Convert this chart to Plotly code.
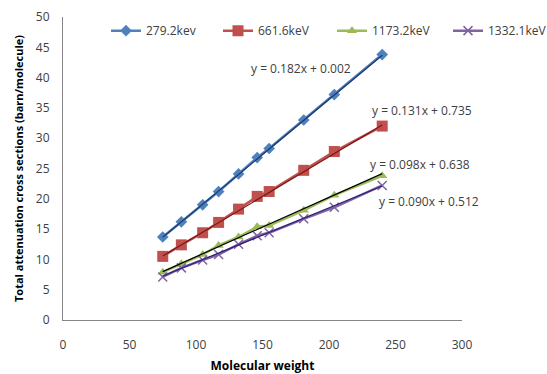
import numpy as np
import plotly.graph_objects as go

# Data
mol_weight = [75, 89, 105, 117, 132, 146, 155, 181, 204, 240]
series_names = ["279.2kev", "661.6keV", "1173.2keV", "1332.1keV"]
s_279 = [13.7, 16.2, 19.0, 21.2, 24.1, 26.8, 28.3, 33.0, 37.2, 43.8]
s_661 = [10.5, 12.4, 14.4, 16.1, 18.3, 20.4, 21.2, 24.7, 27.8, 32.0]
s_1173 = [7.9, 9.3, 10.8, 12.3, 13.7, 15.4, 15.6, 18.1, 20.6, 23.8]
s_1332 = [7.1, 8.6, 9.9, 10.8, 12.5, 13.9, 14.4, 16.7, 18.6, 22.2]
slopes = [0.182, 0.131, 0.098, 0.090]
intercepts = [0.002, 0.735, 0.638, 0.512]
eq_labels = ["y = 0.182x + 0.002", "y = 0.131x + 0.735",
             "y = 0.098x + 0.638", "y = 0.090x + 0.512"]
x_ticks = [0, 50, 100, 150, 200, 250, 300]
y_ticks = [0, 5, 10, 15, 20, 25, 30, 35, 40, 45, 50]

colors = ["#4F81BD", "#C0504D", "#9BBB59", "#8064A2"]
trend_colors = ["#1F3A6E", "#7A1515", "#000000", "#2B1E78"]
symbols = ["diamond", "square", "triangle-up", "x-thin"]
sizes = [9, 11, 9, 9]
values = [s_279, s_661, s_1173, s_1332]
legend_ids = ["legend", "legend2", "legend3", "legend4"]
legend_px = [106, 218, 332, 448]

fig = go.Figure()
for i, name in enumerate(series_names):
    marker = dict(symbol=symbols[i], size=sizes[i], color=colors[i])
    if symbols[i] == "x-thin":
        marker["line"] = dict(color=colors[i], width=1.5)
    fig.add_trace(go.Scatter(x=mol_weight, y=values[i], name=name,
                             mode="lines+markers", legend=legend_ids[i],
                             line=dict(color=colors[i], width=2.5),
                             marker=marker))
for i in range(4):
    xs = np.array([min(mol_weight), max(mol_weight)])
    fig.add_trace(go.Scatter(x=xs, y=slopes[i] * xs + intercepts[i],
                             mode="lines", showlegend=False,
                             line=dict(color=trend_colors[i], width=1.2),
                             hoverinfo="skip"))

ann_pos = [(301, 68), (422, 110), (420, 164), (429, 202)]
for (px, py), txt in zip(ann_pos, eq_labels):
    fig.add_annotation(text=txt, x=(px - 63) / 399, y=(320 - py) / 303,
                       xref="paper", yref="paper", showarrow=False,
                       xanchor="center", yanchor="middle",
                       font=dict(size=12, color="#404040"))

legend_style = dict(orientation="h", y=0.955, xanchor="left", yanchor="middle",
                    font=dict(size=12, color="#404040"), itemwidth=30,
                    bgcolor="rgba(0,0,0,0)")
layout_legends = {}
for lid, px in zip(legend_ids, legend_px):
    layout_legends[lid] = dict(legend_style, x=(px - 63) / 399)

fig.update_layout(
    width=547, height=374,
    margin=dict(l=63, r=85, t=17, b=54, autoexpand=False),
    paper_bgcolor="white", plot_bgcolor="white",
    font=dict(family="Open Sans", size=12, color="#404040"),
    xaxis=dict(range=[0, 300], tickvals=x_ticks, showgrid=False, zeroline=False,
               showline=True, linecolor="#868686", linewidth=1, ticks="",
               ticklabelstandoff=14, automargin=False,
               title=dict(text="<b>Molecular weight</b>", standoff=14,
                          font=dict(size=12, color="#000000"))),
    yaxis=dict(range=[0, 50], tickvals=y_ticks, showgrid=False, zeroline=False,
               showline=True, linecolor="#868686", linewidth=1, ticks="",
               ticklabelstandoff=10, automargin=False,
               title=dict(text="<b>Total attenuation cross sections (barn/molecule)</b>",
                          standoff=10, font=dict(size=11, color="#000000"))),
    **layout_legends,
)
fig.write_html("out.html")
